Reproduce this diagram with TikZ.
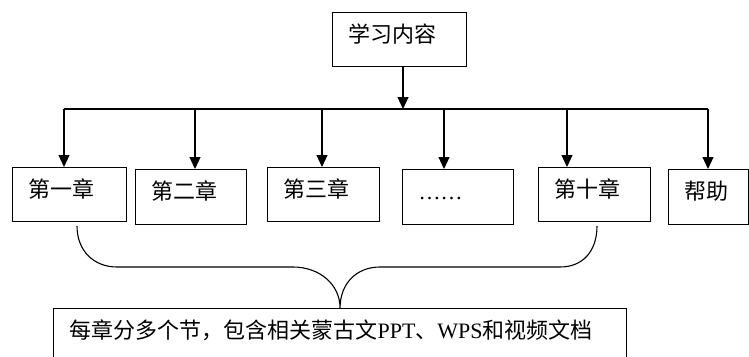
\documentclass[tikz,border=0pt]{standalone}
\usepackage{fontspec}
\setmainfont{Liberation Serif}
\newfontfamily\cjk{Noto Sans CJK SC}
\usetikzlibrary{arrows.meta}
\begin{document}
\begin{tikzpicture}[x=1pt,y=-1pt,
  box/.style={draw, line width=1.1pt, rectangle, inner xsep=16pt, inner ysep=4pt,
    align=left, text height=26pt, font=\fontsize{22}{26}\selectfont\cjk, anchor=north west},
  arr/.style={line width=1.1pt, -{Triangle[length=12pt,width=11pt]}},
  ln/.style={line width=1.1pt}]
\path[use as bounding box, clip] (0,0) rectangle (749,356);

\node[box, text width=102pt, text depth=20pt] (top) at (332,12) {学习内容};
\node[box, text width=82pt, text depth=20pt] (ch1) at (12,167) {第一章};
\node[box, text width=79pt, text depth=21pt] (ch2) at (135,169) {第二章};
\node[box, text width=80pt, text depth=20pt] (ch3) at (267,167) {第三章};
\node[box, text width=79pt, text depth=21pt] (ch4) at (402,169) {\rmfamily ……};
\node[box, text width=80pt, text depth=20pt] (ch10) at (538,167) {第十章};
\node[box, text width=48pt, text depth=21pt] (help) at (668,169) {帮助};
\node[box, text width=541pt, text depth=36pt] (note) at (53,308)
  {每章分多个节，包含相关蒙古文{\rmfamily PPT}、{\rmfamily WPS}和视频文档};

\coordinate (bm) at (403,109);
\coordinate (bl) at (64,109);
\coordinate (b2) at (195,109);
\coordinate (b3) at (322,109);
\coordinate (b4) at (444,109);
\coordinate (b5) at (567,109);
\coordinate (br) at (708,109);

\draw[arr] (top.south -| bm) -- (bm);
\draw[ln] (bl) -- (br);
\draw[arr] (bl) -- (bl |- ch1.north);
\draw[arr] (b2) -- (b2 |- ch2.north);
\draw[arr] (b3) -- (b3 |- ch3.north);
\draw[arr] (b4) -- (b4 |- ch4.north);
\draw[arr] (b5) -- (b5 |- ch10.north);
\draw[arr] (br) -- (br |- help.north);

\coordinate (bL) at (77,226);
\coordinate (bR) at (597,226);
\draw[ln] (bL) .. controls (77,251) and (94,267) .. (117,267) -- (293,267)
  .. controls (319,267) and (note.north |- 0,284) .. (note.north)
  .. controls (note.north |- 0,284) and (356,267) .. (380,267) -- (560,267)
  .. controls (583,267) and (597,251) .. (bR);
\end{tikzpicture}
\end{document}
